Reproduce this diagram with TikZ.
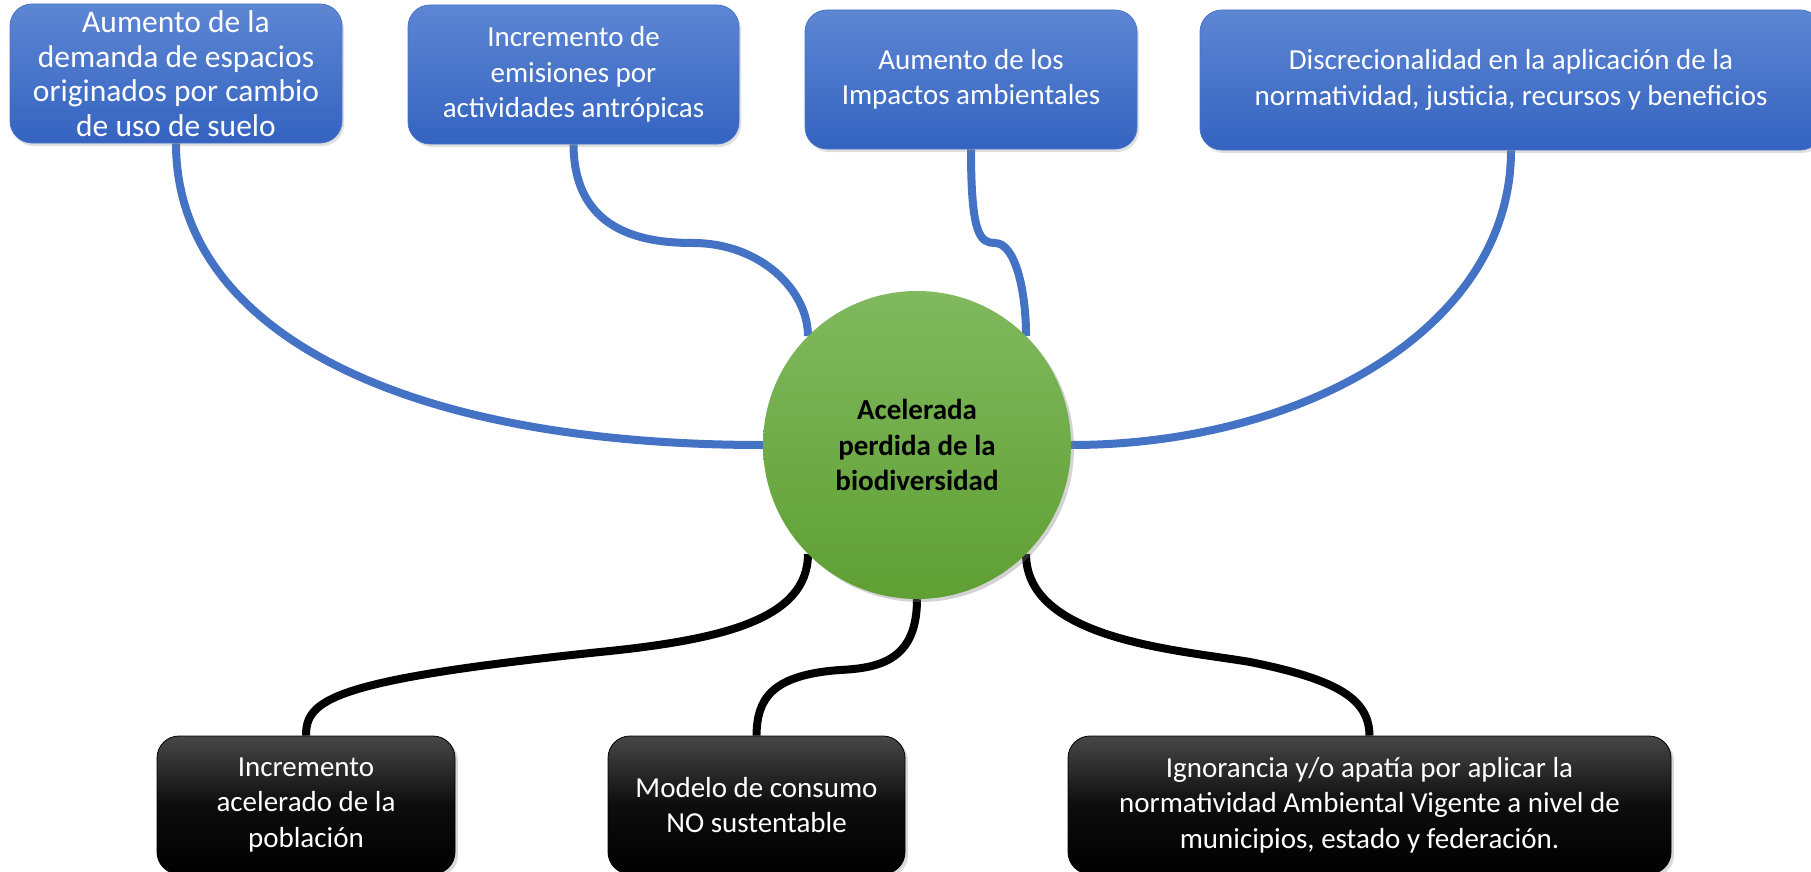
\documentclass[tikz,border=0pt]{standalone}
\usepackage{fontspec}
\setmainfont{Carlito}
\usetikzlibrary{positioning,shadows}
\pgfdeclarelayer{back}
\pgfsetlayers{back,main}
\definecolor{azulclaro}{HTML}{5D86D3}
\definecolor{azuloscuro}{HTML}{3463C0}
\definecolor{azullinea}{HTML}{4472C4}
\definecolor{verdeclaro}{HTML}{80B95E}
\definecolor{verdeoscuro}{HTML}{5F9F33}

\begin{document}
\begin{tikzpicture}[x=1pt,y=-1pt,
	causa/.style={rounded corners=22pt,top color=azulclaro,bottom color=azuloscuro,draw=azuloscuro!90!white,line width=0.8pt,text=white,align=center,inner sep=0pt,font=\fontsize{29}{35.5}\selectfont,drop shadow={opacity=0.25,shadow xshift=2pt,shadow yshift=-3pt}},
	efecto/.style={rounded corners=22pt,top color=black!72,bottom color=black,middle color=black!95,draw=black,line width=0.8pt,text=white,align=center,inner sep=0pt,font=\fontsize{29}{35.5}\selectfont,drop shadow={opacity=0.3,shadow xshift=3pt,shadow yshift=-3pt}},
	nucleo/.style={circle,top color=verdeclaro,bottom color=verdeoscuro,draw=none,minimum size=308pt,inner sep=0pt,align=center,font=\fontsize{29}{35.5}\selectfont\bfseries,drop shadow={opacity=0.35,shadow xshift=3pt,shadow yshift=-3pt}},
	azul/.style={draw=azullinea,line width=8pt},
	negro/.style={draw=black,line width=8pt}]
	\useasboundingbox (0,0) rectangle (1811,872);

	\node[nucleo] (c) at (917,445) {Acelerada\\perdida de la\\biodiversidad};

	\node[causa,minimum width=332pt,minimum height=139pt,font=\fontsize{31.5}{34.5}\selectfont] (b1) at (176,73.5) {Aumento de la\\demanda de espacios\\originados por cambio\\de uso de suelo};
	\node[causa,minimum width=331pt,minimum height=139pt] (b2) at (573.5,74.5) {Incremento de\\emisiones por\\actividades antrópicas};
	\node[causa,minimum width=332pt,minimum height=139pt] (b3) at (971,79.5) {Aumento de los\\Impactos ambientales};
	\node[causa,minimum width=622pt,minimum height=140pt] (b4) at (1511,80) {Discrecionalidad en la aplicación de la\\normatividad, justicia, recursos y beneficios};

	\node[efecto,minimum width=298pt,minimum height=138pt] (e1) at (306,805) {Incremento\\acelerado de la\\población};
	\node[efecto,minimum width=297pt,minimum height=138pt] (e2) at (756.5,805) {Modelo de consumo\\NO sustentable};
	\node[efecto,minimum width=603pt,minimum height=138pt] (e3) at (1369.5,805) {Ignorancia y/o apatía por aplicar la\\normatividad Ambiental Vigente a nivel de\\municipios, estado y federación.};

	\begin{pgfonlayer}{back}
		% causas
		\draw[azul] (b1.south) .. controls (176,330) and (400,445) .. (c.180);
		\draw[azul] (b2.south) .. controls (574,230) and (640,243) .. (693,243) .. controls (760,243) and (c.135 |- 0,290) .. (c.135);
		\draw[azul] (b3.south) .. controls (971,235) and (980,243) .. (995,243) .. controls (1015,243) and (c.45 |- 0,290) .. (c.45);
		\draw[azul] (b4.south) .. controls (1511,330) and (1300,445) .. (c.0);
		% efectos
		\draw[negro] (c.225) .. controls (808,620) and (720,640) .. (600,652) .. controls (330,680) and (306,700) .. (e1.north);
		\draw[negro] (c.270) .. controls (917,660) and (880,668) .. (840,670) .. controls (770,675) and (757,700) .. (e2.north);
		\draw[negro] (c.315) .. controls (1026,640) and (1180,650) .. (1250,662) .. controls (1340,680) and (1369,700) .. (e3.north);
	\end{pgfonlayer}
\end{tikzpicture}
\end{document}
